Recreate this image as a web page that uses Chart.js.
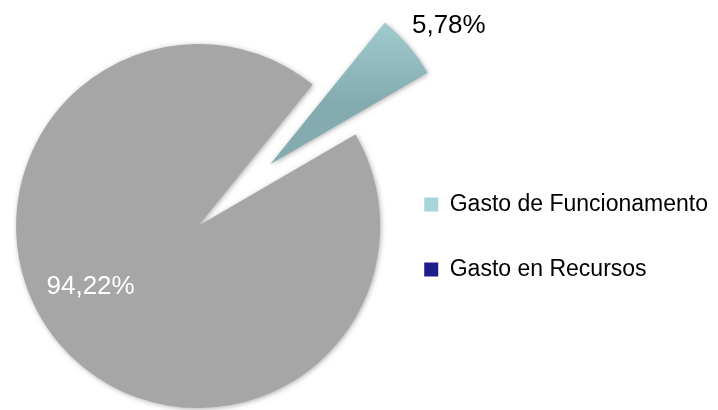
<!DOCTYPE html>
<html>
<head>
<meta charset="utf-8">
<script src="https://cdn.jsdelivr.net/npm/chart.js@4.4.1/dist/chart.umd.min.js"></script>
<style>
  html, body { margin: 0; padding: 0; background: #ffffff; }
  #wrap { width: 718px; height: 410px; }
</style>
</head>
<body>
<div id="wrap"><canvas id="myChart" width="718" height="410"></canvas></div>
<script>
// data
const categories = ['Gasto de Funcionamento', 'Gasto en Recursos'];
const shares = [5.78, 94.22];

// styling
const sliceColors = ['#a6d4d8', '#a6a6a6'];
const legendColors = ['#a8d5d9', '#1d1d8c'];
const labelColors = ['#000000', '#ffffff'];
const explode = [95, 0];
const labelShift = [2.9, 10.9];      // degrees off the slice middle
const labelDistance = [1.24, 0.68];  // fraction of the radius
const pieRadius = 182;
const pieRotation = 39;
const fontFamily = '"Liberation Sans", Arial, sans-serif';

function total() {
    return shares.reduce((acc, v) => acc + v, 0);
}

// light-to-dark gradient on the exploded slice
function tealGradient(c) {
    const chart = c.chart;
    const area = chart.chartArea;
    if (!area) return sliceColors[0];
    const start = (pieRotation - 90) * Math.PI / 180;
    const end = start + 2 * Math.PI * shares[0] / total();
    const mid = (start + end) / 2;
    const cy = (area.top + area.bottom) / 2 + explode[0] * Math.sin(mid);
    const top = cy + pieRadius * Math.min(Math.sin(start), Math.sin(end));
    const g = chart.ctx.createLinearGradient(0, top, 0, cy);
    g.addColorStop(0, '#b4e2e6');
    g.addColorStop(1, '#84acb0');
    return g;
}

// Chart.js "offset" also grows the slice, so pull slices out by translating instead
const explodeSlices = {
    id: 'explodeSlices',
    beforeDatasetsDraw(chart) {
        const meta = chart.getDatasetMeta(0);
        meta.data.forEach((arc, i) => {
            if (arc.exploded) return;
            const baseDraw = arc.draw;
            arc.draw = function (c, area) {
                const a = (this.startAngle + this.endAngle) / 2;
                c.save();
                c.translate(Math.cos(a) * explode[i], Math.sin(a) * explode[i]);
                baseDraw.call(this, c, area);
                c.restore();
            };
            arc.exploded = true;
        });
        const ctx = chart.ctx;
        ctx.save();
        ctx.shadowColor = 'rgba(110,110,110,0.55)';
        ctx.shadowBlur = 5;
        ctx.shadowOffsetX = 1;
        ctx.shadowOffsetY = 1;
    },
    afterDatasetsDraw(chart) {
        chart.ctx.restore();
    }
};

const pctLabels = {
    id: 'pctLabels',
    afterDatasetsDraw(chart) {
        const ctx = chart.ctx;
        const meta = chart.getDatasetMeta(0);
        ctx.save();
        ctx.font = '26px ' + fontFamily;
        ctx.textAlign = 'center';
        ctx.textBaseline = 'middle';
        meta.data.forEach((arc, i) => {
            const p = arc.getProps(['x', 'y', 'startAngle', 'endAngle', 'outerRadius']);
            const a = (p.startAngle + p.endAngle) / 2;
            const la = a + labelShift[i] * Math.PI / 180;
            const d = p.outerRadius * labelDistance[i];
            const x = p.x + explode[i] * Math.cos(a) + d * Math.cos(la);
            const y = p.y + explode[i] * Math.sin(a) + d * Math.sin(la);
            ctx.fillStyle = labelColors[i];
            ctx.fillText(shares[i].toFixed(2).replace('.', ',') + '%', x, y);
        });
        ctx.restore();
    }
};

const ctx = document.getElementById('myChart').getContext('2d');
new Chart(ctx, {
    type: 'pie',
    data: {
        labels: categories,
        datasets: [{
            data: shares,
            backgroundColor: (c) => c.dataIndex === 0 ? tealGradient(c) : sliceColors[1],
            borderWidth: 0,
            clip: false
        }]
    },
    options: {
        responsive: false,
        animation: false,
        events: [],
        radius: pieRadius,
        rotation: pieRotation,
        layout: { padding: { left: 14, right: 0, top: 42, bottom: 0 } },
        plugins: {
            tooltip: { enabled: false },
            legend: {
                position: 'right',
                align: 'center',
                title: { display: true, text: '', padding: 0, font: { size: 22, lineHeight: 1 } },
                labels: {
                    boxWidth: 14,
                    boxHeight: 14,
                    padding: 42,
                    color: '#000000',
                    font: { family: fontFamily, size: 23 },
                    generateLabels: () => categories.map((text, i) => ({
                        text: text,
                        fillStyle: legendColors[i],
                        strokeStyle: legendColors[i],
                        fontColor: '#000000',
                        lineWidth: 0,
                        hidden: false,
                        index: i
                    }))
                }
            }
        }
    },
    plugins: [explodeSlices, pctLabels]
});
</script>
</body>
</html>
